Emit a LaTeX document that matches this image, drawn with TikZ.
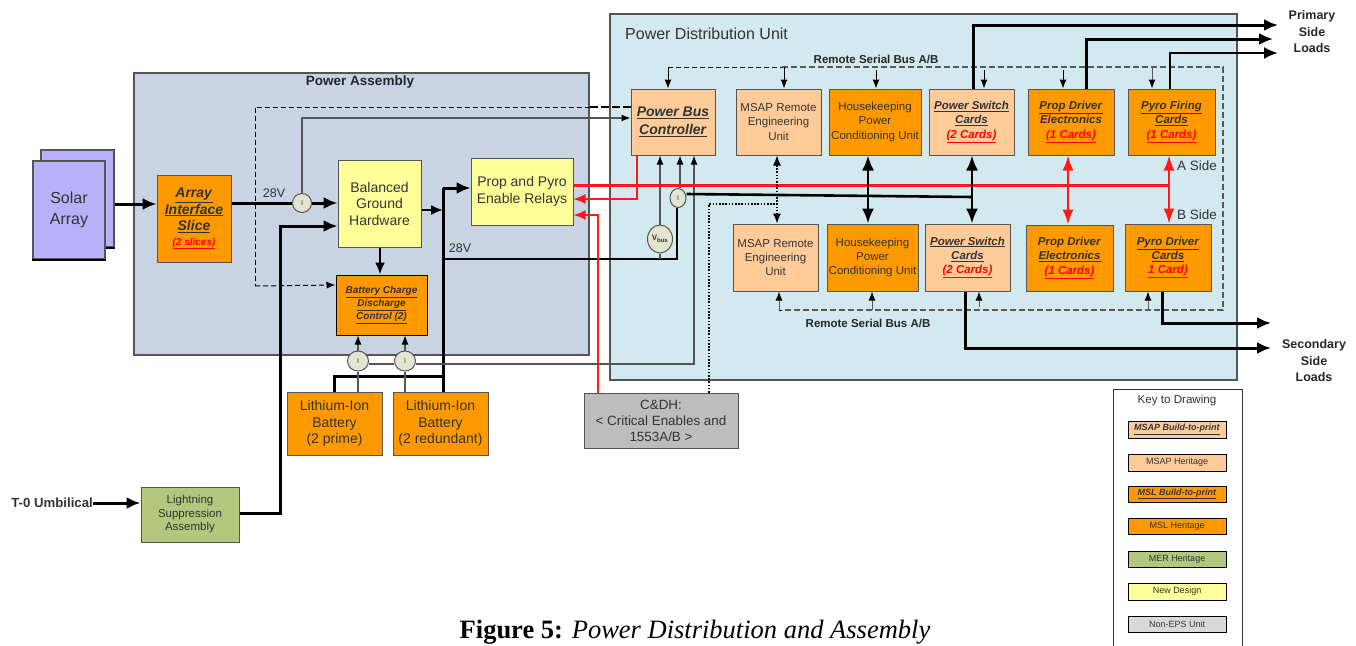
\documentclass[tikz,border=0pt]{standalone}
\usepackage{fontspec}
\setmainfont{Liberation Sans}
\newfontfamily\capfont{Liberation Serif}
\usetikzlibrary{arrows.meta,calc,shapes.geometric}
\definecolor{paback}{HTML}{C8D4E4}
\definecolor{pduback}{HTML}{D2E9EF}
\definecolor{msl}{HTML}{FF9900}
\definecolor{msap}{HTML}{FFCC99}
\definecolor{newd}{HTML}{FFFF99}
\definecolor{mer}{HTML}{B3C77E}
\definecolor{solar}{HTML}{B8B0F8}
\definecolor{cdh}{HTML}{BDBDBD}
\definecolor{sens}{HTML}{E2E6D0}
\definecolor{edge}{HTML}{555555}
\definecolor{txt}{HTML}{333333}
\definecolor{redl}{HTML}{FF1A1A}
\newcommand{\bu}[1]{\underline{\textbf{\textit{#1}}}}
\newcommand{\ru}[1]{\textcolor{red}{\underline{\textbf{\textit{#1}}}}}
\newcommand{\bx}[7][]{\node[box,fill=#2,#1,minimum width={(#6-#4)*1pt},minimum height={(#7-#5)*1pt}] (#3) at ({(#4+#6)/2},{(#5+#7)/2})}
\tikzset{
  box/.style={draw=edge,line width=1pt,inner sep=0pt,align=center,text=txt,font=\fontsize{11.5}{14.3}\selectfont},
  sensor/.style={draw=edge,fill=sens,ellipse,inner sep=0pt,line width=1pt,text=txt,font=\fontsize{7}{8}\selectfont},
  lab/.style={text=txt,inner sep=0pt,align=center,font=\fontsize{12.5}{16}\selectfont},
  blab/.style={text=black!85,inner sep=0pt,align=center,font=\fontsize{11.5}{16}\selectfont\bfseries},
  hv/.style={line width=3pt,draw=black,-{Latex[length=14pt,width=12pt]}},
  hvv/.style={line width=2.4pt,draw=black,{Latex[length=15pt,width=12pt]}-{Latex[length=15pt,width=12pt]}},
  med/.style={line width=2.2pt,draw=black,-{Latex[length=12pt,width=10pt]}},
  thinl/.style={line width=1.2pt,draw=edge},
  thina/.style={line width=1.2pt,draw=edge,-{Latex[length=9pt,width=7pt,black]}},
  rthick/.style={line width=3pt,draw=redl},
  rvv/.style={line width=2pt,draw=redl,{Latex[length=15pt,width=11pt]}-{Latex[length=15pt,width=11pt]}},
  rthin/.style={line width=1.5pt,draw=redl,-{Latex[length=12pt,width=10pt]}},
  dash1/.style={line width=1pt,draw=black,dash pattern=on 5pt off 3pt},
  dash2/.style={line width=1.3pt,draw=gray!70!black,dash pattern=on 6pt off 3pt},
  dasha/.style={line width=1pt,draw=black,-{Latex[length=9pt,width=7pt,black]}},
  dotl/.style={line width=1.2pt,draw=black,dash pattern=on 1.6pt off 1.6pt},
}
\begin{document}
\begin{tikzpicture}[x=1pt,y=-1pt]
\useasboundingbox (0,0) rectangle (1356,645);
% containers
\bx[draw=edge,line width=1.5pt]{paback}{pa}{134}{73}{589}{355}{};
\bx[draw=edge,line width=1.5pt]{pduback}{pdu}{610}{14}{1237}{380}{};
\node[blab,font=\fontsize{13.5}{15}\selectfont\bfseries] (patitle) at (360,82.5) {Power Assembly};
\node[lab,font=\fontsize{16}{18}\selectfont,anchor=west] (pdutitle) at (625,34) {Power Distribution Unit};
% left column
\bx[line width=1.3pt]{solar}{sa2}{41}{150}{114}{247}{};
\draw[line width=2pt,black] (sa2.south west) -- (sa2.south east);
\bx[line width=1.3pt,font=\fontsize{16}{21}\selectfont]{solar}{sa}{33}{161}{105}{259}{Solar\\Array};
\draw[line width=2pt,black] (sa.south west) -- (sa.south east);
\bx[font=\fontsize{14}{16.5}\selectfont]{msl}{ais}{157}{175}{231}{262}{\bu{Array}\\\bu{Interface}\\\bu{Slice}\\[-2pt]\ru{\fontsize{10}{12}\selectfont(2 slices)}};
\bx[font=\fontsize{14}{16.5}\selectfont]{newd}{bgh}{338}{160}{421}{247}{Balanced\\Ground\\Hardware};
\bx[font=\fontsize{14}{16.5}\selectfont]{newd}{rel}{471}{158}{573}{225}{Prop and Pyro\\Enable Relays};
\bx[line width=1pt,draw=black,font=\fontsize{10}{13}\selectfont]{msl}{bcd}{336}{275}{427}{335}{\bu{Battery Charge}\\\bu{Discharge}\\\bu{Control (2)}};
\bx[font=\fontsize{14}{16.3}\selectfont]{msl}{li1}{287}{392}{382}{455}{Lithium-Ion\\Battery\\(2 prime)};
\bx[font=\fontsize{14}{16.3}\selectfont]{msl}{li2}{393}{392}{488}{455}{Lithium-Ion\\Battery\\(2 redundant)};
\bx[font=\fontsize{13.4}{16}\selectfont]{cdh}{cd}{584}{393}{738}{448}{C\&DH:\\< Critical Enables and\\1553A/B >};
\bx[font=\fontsize{11.5}{13.5}\selectfont]{mer}{lsa}{141}{487}{239}{542}{Lightning\\Suppression\\Assembly};
\node[lab,font=\fontsize{13.2}{15}\selectfont\bfseries,anchor=east] (t0) at (93,503) {T-0 Umbilical};
% top row
\bx[font=\fontsize{14}{18}\selectfont]{msap}{pbc}{631}{89}{715}{155}{\bu{Power Bus}\\\bu{Controller}};
\bx{msap}{rt}{736}{89}{821}{155}{MSAP Remote\\Engineering\\Unit};
\bx{msl}{ht}{829}{89}{921}{155}{Housekeeping\\Power\\Conditioning Unit};
\bx{msap}{st}{929}{89}{1014}{155}{\bu{Power Switch}\\\bu{Cards}\\\ru{(2 Cards)}};
\bx{msl}{pt}{1028}{89}{1114}{155}{\bu{Prop Driver}\\\textbf{\textit{Electronics}}\\\ru{(1 Cards)}};
\bx{msl}{yt}{1128}{89}{1215}{155}{\bu{Pyro Firing}\\\bu{Cards}\\\ru{(1 Cards)}};
% bottom row
\bx{msap}{rb}{733}{224}{818}{291}{MSAP Remote\\Engineering\\Unit};
\bx{msl}{hb}{827}{224}{918}{291}{Housekeeping\\Power\\Conditioning Unit};
\bx{msap}{sb}{925}{224}{1010}{291}{\bu{Power Switch}\\\bu{Cards}\\\ru{(2 Cards)}};
\bx{msl}{pb}{1026}{225}{1113}{291}{\textbf{\textit{Prop Driver}}\\\bu{Electronics}\\\ru{(1 Cards)}};
\bx{msl}{yb}{1125}{224}{1211}{291}{\bu{Pyro Driver}\\\bu{Cards}\\\ru{1 Card)}};
% sensors
\node[sensor,minimum width=19pt,minimum height=19pt] (s1) at (302,203) {I};
\node[sensor,minimum width=21pt,minimum height=20pt] (s2) at (358,361) {I};
\node[sensor,minimum width=21pt,minimum height=20pt] (s3) at (405,361) {I};
\node[sensor,minimum width=16pt,minimum height=19pt] (s4) at (678,198) {I};
\node[sensor,minimum width=25pt,minimum height=28pt,font=\fontsize{8}{9}\selectfont\bfseries] (vb) at (660,239) {V\textsubscript{bus}};
% labels
\node[lab] (v1) at (274,193) {28V};
\node[lab] (v2) at (460,248) {28V};
\node[lab,anchor=west,font=\fontsize{13.5}{15}\selectfont] (as) at (1177,166) {A Side};
\node[lab,anchor=west,font=\fontsize{13.5}{15}\selectfont] (bs) at (1177,215) {B Side};
\node[blab] (rs1) at (876,59) {Remote Serial Bus A/B};
\node[blab] (rs2) at (868,323) {Remote Serial Bus A/B};
\node[blab,font=\fontsize{12.5}{16.5}\selectfont\bfseries] (prim) at (1312,32) {Primary\\Side\\Loads};
\node[blab,font=\fontsize{12.5}{16.5}\selectfont\bfseries] (sec) at (1314,361) {Secondary\\Side\\Loads};
\coordinate (pl1) at (1278,25);\coordinate (pl2) at (1273,39);\coordinate (pl3) at (1278,53);
\coordinate (sl1) at (1271,323);\coordinate (sl2) at (1271,348);
% key
\bx[draw=black!80,line width=1pt]{white}{key}{1113}{389}{1242}{665}{};
\node[lab,font=\fontsize{11.6}{13}\selectfont] (keyt) at (1177,400) {Key to Drawing};
\tikzset{keyb/.style={draw=black,line width=1pt,font=\fontsize{9}{10}\selectfont}}
\bx[keyb]{msap}{k1}{1128}{421}{1226}{438}{\bu{MSAP Build-to-print}};
\bx[keyb]{msap}{k2}{1128}{454}{1226}{471}{MSAP Heritage};
\bx[keyb]{msl}{k3}{1128}{486}{1226}{502}{\bu{MSL Build-to-print}};
\bx[keyb]{msl}{k4}{1128}{518}{1226}{534}{MSL Heritage};
\bx[keyb]{mer}{k5}{1128}{551}{1226}{567}{MER Heritage};
\bx[keyb]{newd}{k6}{1128}{583}{1226}{600}{New Design};
\bx[keyb]{black!15}{k7}{1128}{616}{1226}{632}{Non-EPS Unit};
% caption
\node[inner sep=0pt,font=\capfont\fontsize{26.5}{28}\selectfont] (cap) at (695,632) {\textbf{Figure 5:} \textit{Power Distribution and Assembly}};
% connectors: left part
\draw[hv] (sa2.east |- 0,204) -- (ais.west |- 0,204);
\draw[line width=3pt] (ais.east |- s1.west) -- (s1.west);
\draw[hv] (s1.east) -- (bgh.west |- s1.east);
\draw[thina] (s1.north) |- (pbc.west |- 0,118);
\draw[dash1] (pa.east |- 0,107) -- (255,107) -- (255,286);
\draw[dash1,-{Latex[length=9pt,width=7pt]}] (255,286) -- (bcd.west |- 0,285);
\draw[line width=2.2pt,dash pattern=on 8pt off 3pt] (pbc.west |- 0,107) -- (pa.east |- 0,107);
\draw[hv] (lsa.east |- 0,513) -| (280,226) -- (bgh.west |- 0,226);
\draw[hv] (t0.east) -- (lsa.west |- t0.east);
\draw[med] (bgh.south -| 380,0) -- (bcd.north -| 380,0);
\draw[med] (bgh.east |- 0,210) -- (443,210);
\draw[line width=3pt] (443,188) -- (li2.north -| 443,0);
\draw[hv] (443,188) -- (rel.west |- 0,188);
\draw[line width=2.6pt] (443,259) -- (677,259) -- (s4.south -| 677,0);
\draw[line width=3pt] (li1.north -| 334,0) -- (334,376) -- (443,376);
\draw[thina] (s2.north) -- (bcd.south -| s2.north);
\draw[thina] (s3.north) -- (bcd.south -| s3.north);
\draw[thinl] (s2.south) -- (li1.north -| s2.south);
\draw[thinl] (s3.south) -- (li2.north -| s3.south);
\draw[thinl] (s2.east |- 0,364) -- (s3.west |- 0,364);
\draw[thinl] (s3.east |- 0,364) -| (694,200);
\draw[thina] (694,200) -- (pbc.south -| 694,0);
\draw[thina] (vb.north) -- (pbc.south -| vb.north);
\draw[thina] (s4.north -| 680,0) -- (pbc.south -| 680,0);
\draw[thinl] (vb.south) -- (660,259);
% red
\draw[rthick] (rel.east |- 0,185) -- (1169,185);
\draw[rvv] (pt.south -| 1068,0) -- (pb.north -| 1068,0);
\draw[rvv] (yt.south -| 1169,0) -- (yb.north -| 1169,0);
\draw[rthin,line width=1.2pt] (pbc.south -| 637,0) -- (637,199) -- (rel.east |- 0,199);
\draw[rthin] (cd.north -| 598,0) -- (598,215) -- (rel.east |- 0,215);
% power rail
\draw[line width=2.6pt] (s4.east |- 0,194) -- (972,197);
\draw[hvv] (ht.south -| 868,0) -- (hb.north -| 868,0);
\draw[hvv] (st.south -| 972,0) -- (sb.north -| 972,0);
% dotted
\draw[dotl] (cd.north -| 709,0) -- (709,204) -- (777,204);
\draw[dotl,{Latex[length=10pt,width=8pt]}-{Latex[length=10pt,width=8pt]}] (rt.south -| 777,0) -- (rb.north -| 777,0);
% serial bus
\draw[dash1] (668,67) -- (782,67);
\draw[dasha] (668,67) -- (pbc.north -| 668,0);
\draw[dash2] (782,67) -- (1223,67) -- (1223,310) -- (782,310);
\draw[dash1] (782,310) -- (779,310);
\draw[dasha] (784,67) -- (rt.north -| 784,0);
\draw[dasha] (876,70) -- (ht.north -| 876,0);
\draw[dasha] (984,70) -- (st.north -| 984,0);
\draw[dasha] (1063,70) -- (pt.north -| 1063,0);
\draw[dasha,draw=gray!70!black] (1152,67) -- (yt.north -| 1152,0);
\draw[dasha,draw=gray!70!black] (779,310) -- (rb.south -| 779,0);
\draw[dasha,draw=gray!70!black] (872,310) -- (hb.south -| 872,0);
\draw[dasha,draw=gray!70!black] (979,307) -- (sb.south -| 979,0);
\draw[dasha,draw=gray!70!black] (1148,310) -- (yb.south -| 1148,0);
% loads
\draw[hv] (st.north -| 973,0) |- (pl1);
\draw[hv] (pt.north -| 1086,0) |- (pl2);
\draw[hv,line width=2.4pt] (yt.north -| 1170,0) |- (pl3);
\draw[hv] (yb.south -| 1162,0) |- (sl1);
\draw[hv] (sb.south -| 965,0) |- (sl2);
\end{tikzpicture}
\end{document}
